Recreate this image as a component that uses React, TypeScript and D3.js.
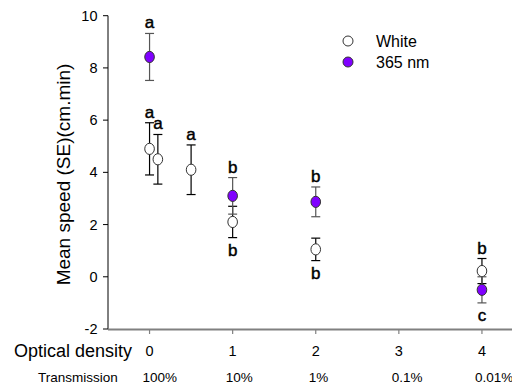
import React from 'react';
import * as d3 from 'd3';

const width = 512;
const height = 387;

// optical density levels and matching transmission labels
const odLevels = [0, 1, 2, 3, 4];
const transmission = ['100%', '10%', '1%', '0.1%', '0.01%'];
const yTicks = [-2, 0, 2, 4, 6, 8, 10];

// white light series
const whiteX = [0, 0.1, 0.5, 1, 2, 4];
const whiteMean = [4.9, 4.5, 4.1, 2.1, 1.05, 0.22];
const whiteSE = [1.0, 0.95, 0.95, 0.6, 0.43, 0.48];
const whiteLetters = ['a', 'a', 'a', 'b', 'b', 'b'];
const whiteLetterSide = ['above', 'above', 'above', 'below', 'below', 'above'];

// 365 nm series
const uvX = [0, 1, 2, 4];
const uvMean = [8.42, 3.1, 2.87, -0.5];
const uvSE = [0.9, 0.7, 0.57, 0.5];
const uvLetters = ['a', 'b', 'b', 'c'];
const uvLetterSide = ['above', 'above', 'above', 'below'];

const font = 'Arial, "Liberation Sans", sans-serif';
const purple = '#8000ff';

const x = d3.scaleLinear().domain([-0.5, 4.5]).range([108, 523.5]);
const y = d3.scaleLinear().domain([-2, 10]).range([329, 15.7]);

type Pt = { x: number; mean: number; se: number; letter: string; side: string };

const build = (xs: number[], m: number[], se: number[], l: string[], s: string[]): Pt[] =>
  xs.map((v, i) => ({ x: v, mean: m[i], se: se[i], letter: l[i], side: s[i] }));

const whiteData = build(whiteX, whiteMean, whiteSE, whiteLetters, whiteLetterSide);
const uvData = build(uvX, uvMean, uvSE, uvLetters, uvLetterSide);

const Series = ({ data, fill, barColor }: { data: Pt[]; fill: string; barColor: string }) => (
  <g>
    {data.map((d, i) => {
      const cx = x(d.x);
      const top = y(d.mean + d.se);
      const bot = y(d.mean - d.se);
      return (
        <g key={i}>
          <line x1={cx} x2={cx} y1={top} y2={bot} stroke={barColor} strokeWidth={1.2} />
          <line x1={cx - 4.5} x2={cx + 4.5} y1={top} y2={top} stroke={barColor} strokeWidth={1.2} />
          <line x1={cx - 4.5} x2={cx + 4.5} y1={bot} y2={bot} stroke={barColor} strokeWidth={1.2} />
          <ellipse cx={cx} cy={y(d.mean)} rx={4.8} ry={5.6} fill={fill} stroke="#333" strokeWidth={1} />
          {/* significance letter, slightly heavier like the original */}
          <text
            x={cx}
            y={d.side === 'above' ? top - 5 : bot + 18.5}
            textAnchor="middle"
            fontSize={17}
            fontFamily={font}
            stroke="#000"
            strokeWidth={0.45}
          >
            {d.letter}
          </text>
        </g>
      );
    })}
  </g>
);

export default function App() {
  return (
    <svg
      width={width}
      height={height}
      style={{ position: 'fixed', left: 0, top: 0, background: '#fff' }}
    >
      {/* y axis */}
      <line x1={108} x2={108} y1={y(10)} y2={y(-2)} stroke="#000" strokeWidth={1} />
      {yTicks.map(t => (
        <g key={t}>
          <line x1={103} x2={108} y1={y(t)} y2={y(t)} stroke="#000" />
          <text x={97.5} y={y(t)} dy="0.35em" textAnchor="end" fontSize={14.5} fontFamily={font}>
            {t}
          </text>
        </g>
      ))}
      <text
        transform={`translate(70, 174.5) rotate(-90)`}
        textAnchor="middle"
        fontSize={19}
        fontFamily={font}
      >
        Mean speed (SE)(cm.min)
      </text>

      {/* x axis */}
      <line x1={108} x2={width} y1={329.5} y2={329.5} stroke="#808080" strokeWidth={2} />
      {odLevels.map((od, i) => (
        <g key={od}>
          <line x1={x(od)} x2={x(od)} y1={329.5} y2={334} stroke="#808080" strokeWidth={1.2} />
          <text x={x(od)} y={356} textAnchor="middle" fontSize={14.5} fontFamily={font}>
            {od}
          </text>
          <text x={x(od) - 7} y={381.5} fontSize={13.5} fontFamily={font}>
            {transmission[i]}
          </text>
        </g>
      ))}
      <text x={14} y={357} fontSize={18} fontFamily={font}>Optical density</text>
      <text x={38} y={381.5} fontSize={13.5} fontFamily={font}>Transmission</text>

      {/* data */}
      <Series data={whiteData} fill="#fff" barColor="#000" />
      <Series data={uvData} fill={purple} barColor="#555" />

      {/* legend */}
      <circle cx={348} cy={41} r={5} fill="#fff" stroke="#333" />
      <text x={376} y={46.5} fontSize={16} fontFamily={font}>White</text>
      <circle cx={348} cy={62} r={5} fill={purple} stroke="#333" />
      <text x={376} y={67.5} fontSize={16} fontFamily={font}>365 nm</text>
    </svg>
  );
}
